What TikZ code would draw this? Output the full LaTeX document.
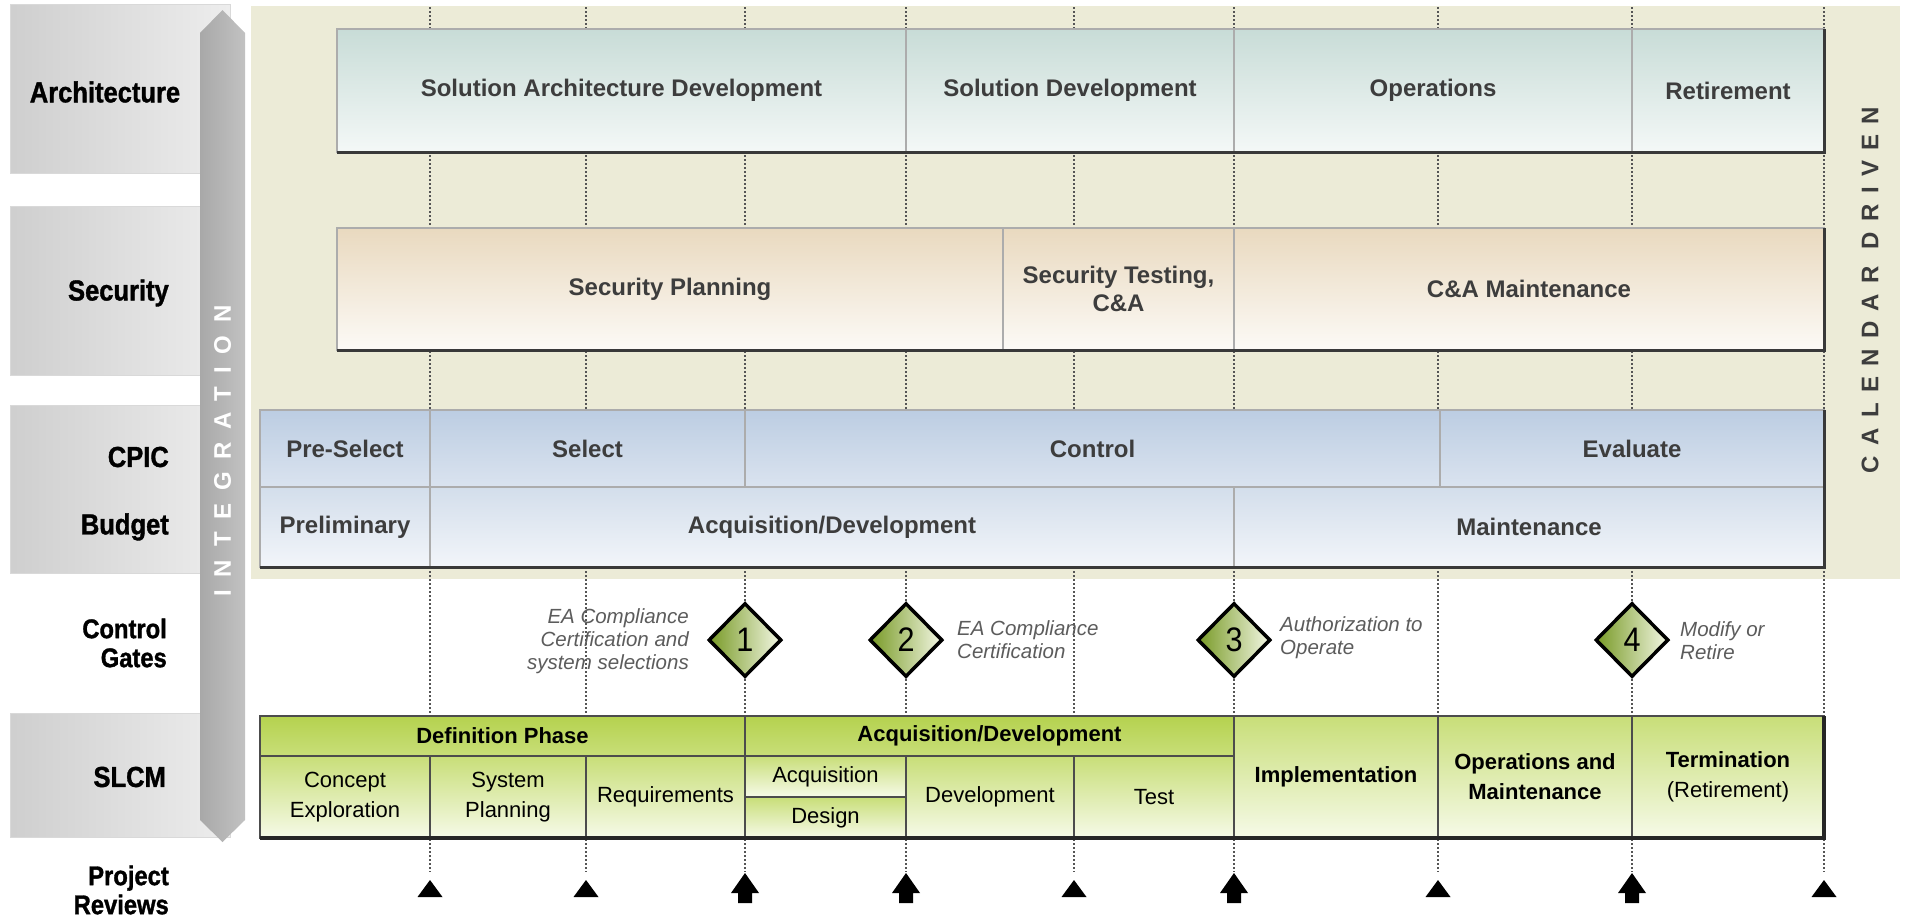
\documentclass[tikz,border=0pt]{standalone}
\usepackage{fontspec}
\setmainfont{Liberation Sans}
\newfontfamily\condfont[FakeStretch=0.9]{Liberation Sans}
\newfontfamily\heavyfont[FakeStretch=0.88, FakeBold=1.2]{Liberation Sans}
\usetikzlibrary{shapes.geometric}

\definecolor{beige}{HTML}{ECEBD7}
\definecolor{archtop}{HTML}{C8DCD7}
\definecolor{archbot}{HTML}{F4F8F7}
\definecolor{sectop}{HTML}{E9D9BF}
\definecolor{secbot}{HTML}{FCFAF6}
\definecolor{cpictop}{HTML}{BCCDE2}
\definecolor{cpicbot}{HTML}{DAE3EF}
\definecolor{budtop}{HTML}{D3DEEB}
\definecolor{budbot}{HTML}{F2F5FA}
\definecolor{limetop}{HTML}{B5D24F}
\definecolor{limemid}{HTML}{C8DE78}
\definecolor{limebot}{HTML}{F6FAE8}
\definecolor{gategreen}{HTML}{789A26}
\definecolor{gatelight}{HTML}{F3F7E4}
\definecolor{boxtext}{HTML}{3D3D3D}
\definecolor{notetext}{HTML}{5C5C5C}
\definecolor{guidegray}{HTML}{555555}

\newcommand{\boxfont}{\fontsize{24}{28}\selectfont\bfseries}
\newcommand{\sidefont}{\heavyfont\bfseries\fontsize{29}{30}\selectfont}
\newcommand{\smallside}{\heavyfont\bfseries\fontsize{27}{29}\selectfont}
\newcommand{\gatefont}{\fontsize{20.5}{23}\selectfont\itshape}
\newcommand{\slcmfont}{\fontsize{22}{30}\selectfont}
\newcommand{\bandfont}{\fontsize{24}{24}\selectfont\bfseries}

\tikzset{
  cellbox/.style={rectangle, draw=gray!65, line width=1.2, inner sep=2, outer sep=0,
    align=center, text=boxtext, font=\boxfont},
  archcell/.style={cellbox, top color=archtop, bottom color=archbot, minimum height=123},
  seccell/.style={cellbox, top color=sectop, bottom color=secbot, minimum height=122},
  cpiccell/.style={cellbox, top color=cpictop, bottom color=cpicbot, minimum height=77},
  budgetcell/.style={cellbox, top color=budtop, bottom color=budbot, minimum height=80},
  slcmbox/.style={rectangle, draw=black!70, line width=1.3, inner sep=2, outer sep=0,
    align=center, font=\slcmfont},
  phasebox/.style={slcmbox, top color=limetop, bottom color=limemid, minimum height=40,
    font=\slcmfont\bfseries},
  stagebox/.style={slcmbox, top color=limemid, bottom color=limebot},
  sidebox/.style={rectangle, draw=gray!30, left color=gray!38, right color=gray!14,
    minimum width=220},
  sidelabel/.style={font=\sidefont, anchor=east, align=right, inner sep=0},
  gatebox/.style={diamond, draw=black, line width=3.5, left color=gategreen,
    right color=gatelight, minimum width=73, minimum height=74, inner sep=0,
    font=\condfont\fontsize{34}{34}\selectfont},
  gatenote/.style={font=\gatefont, text=notetext, inner sep=0},
  guideline/.style={guidegray, line width=1.3, dash pattern=on 1.5pt off 2.5pt},
  underedge/.style={gray!45!black, line width=3},
}

\begin{document}
\begin{tikzpicture}[x=1pt, y=-1pt]
\fill[white] (0,0) rectangle (1912,918);
\useasboundingbox (0,0) rectangle (1912,918);

% calendar driven band
\fill[beige] (251,6) rectangle (1900,579);

% row headers
\node[sidebox, minimum height=169] (hdarch) at (120,88.5) {};
\node[sidebox, minimum height=169] (hdsec) at (120,290.5) {};
\node[sidebox, minimum height=168] (hdcpic) at (120,489) {};
\node[sidebox, minimum height=124] (hdslcm) at (120,775) {};

% milestone guides
\foreach \x [count=\i] in {430,586,745,906,1074,1234,1438,1632,1824} {
  \coordinate (top\i) at (\x,7);
  \coordinate (rev\i) at (\x,872);
  \draw[guideline] (top\i) -- (rev\i);
}

% architecture
\node[archcell, minimum width=569] (sad) at (621.5,90.5) {Solution Architecture Development};
\node[archcell, minimum width=328] (sdev) at (1070,90.5) {Solution Development};
\node[archcell, minimum width=398] (ops) at (1433,90.5) {Operations};
\node[archcell, minimum width=192] (ret) at (1728,90.5) {Retirement};

% security
\node[seccell, minimum width=666] (splan) at (670,289) {Security Planning};
\node[seccell, minimum width=231] (stest) at (1118.5,289) {Security Testing,\\C\&A};
\node[seccell, minimum width=590] (cam) at (1529,289) {C\&A Maintenance};

% cpic / budget
\node[cpiccell, minimum width=170] (presel) at (345,448.5) {Pre-Select};
\node[cpiccell, minimum width=315] (sel) at (587.5,448.5) {Select};
\node[cpiccell, minimum width=695] (ctrl) at (1092.5,448.5) {Control};
\node[cpiccell, minimum width=384] (eval) at (1632,448.5) {Evaluate};
\node[budgetcell, minimum width=170] (prelim) at (345,527) {Preliminary};
\node[budgetcell, minimum width=804] (acqdev) at (832,527) {Acquisition/Development};
\node[budgetcell, minimum width=590] (maint) at (1529,527) {Maintenance};

\draw[underedge] (sad.south west) -- (ret.south east) -- (ret.north east);
\draw[underedge] (splan.south west) -- (cam.south east) -- (cam.north east);
\draw[underedge] (prelim.south west) -- (maint.south east) -- (eval.north east);

% slcm
\node[phasebox, minimum width=485] (defph) at (502.5,736) {Definition Phase};
\node[phasebox, minimum width=489] (acqph) at (989.5,736) {Acquisition/Development};
\node[stagebox, minimum width=170, minimum height=82] (concept) at (345,797) {Concept\\Exploration};
\node[stagebox, minimum width=156, minimum height=82] (sysplan) at (508,797) {System\\Planning};
\node[stagebox, minimum width=159, minimum height=82] (req) at (665.5,797) {Requirements};
\node[stagebox, minimum width=161, minimum height=41] (acq) at (825.5,776.5) {Acquisition};
\node[stagebox, minimum width=161, minimum height=41] (des) at (825.5,817.5) {Design};
\node[stagebox, minimum width=168, minimum height=82] (dev) at (990,797) {Development};
\node[stagebox, minimum width=160, minimum height=82] (test) at (1154,797) {Test};
\node[stagebox, minimum width=204, minimum height=122, font=\slcmfont\bfseries] (impl) at (1336,777) {Implementation};
\node[stagebox, minimum width=194, minimum height=122, font=\slcmfont\bfseries] (opm) at (1535,777) {Operations and\\Maintenance};
\node[stagebox, minimum width=192, minimum height=122] (term) at (1728,777) {\textbf{Termination}\\(Retirement)};
\draw[underedge, black!85, line width=3.5] (concept.south west) -- (term.south east) -- (term.north east);

% integration arrow
\shade[left color=gray!68, right color=gray!48] (200,33) -- (222.5,10) -- (245,33) -- (245,820) -- (222.5,842) -- (200,820) -- cycle;
\node[rotate=90, text=white, font={\bandfont\addfontfeature{LetterSpace=53}}] (integ) at (222.5,451) {INTEGRATION};
\node[rotate=90, text=boxtext, font={\bandfont\addfontfeature{LetterSpace=43}}] (cal) at (1870,290) {CALENDAR DRIVEN};

% row labels
\node[sidelabel, anchor=center] (larch) at (105,92) {Architecture};
\node[sidelabel] (lsec) at (169,293) {Security};
\node[sidelabel] (lcpic) at (169,457) {CPIC};
\node[sidelabel] (lbud) at (169,527) {Budget};
\node[sidelabel, font=\smallside] (lgate) at (167,643) {Control\\Gates};
\node[sidelabel] (lslcm) at (166,777) {SLCM};
\node[sidelabel, font=\smallside] (lrev) at (169,890) {Project\\Reviews};

% control gates
\node[gatebox] (g1) at (745,640) {1};
\node[gatebox] (g2) at (906,640) {2};
\node[gatebox] (g3) at (1234,640) {3};
\node[gatebox] (g4) at (1632,640) {4};
\node[gatenote, anchor=east, align=right] (n1) at (689,641) {EA Compliance\\Certification and\\system selections};
\node[gatenote, anchor=west, align=left] (n2) at (957,640) {EA Compliance\\Certification};
\node[gatenote, anchor=west, align=left] (n3) at (1280,638) {Authorization to\\Operate};
\node[gatenote, anchor=west, align=left] (n4) at (1680,641) {Modify or\\Retire};

% project reviews
\foreach \i in {1,2,5,7,9}
  \fill (rev\i) ++(0,8) -- ++(12.5,17) -- ++(-25,0) -- cycle;
\foreach \i in {3,4,6,8}
  \fill (rev\i) ++(0,1) -- ++(14,20) -- ++(-7,0) -- ++(0,10) -- ++(-14,0) -- ++(0,-10) -- ++(-7,0) -- cycle;
\end{tikzpicture}
\end{document}
